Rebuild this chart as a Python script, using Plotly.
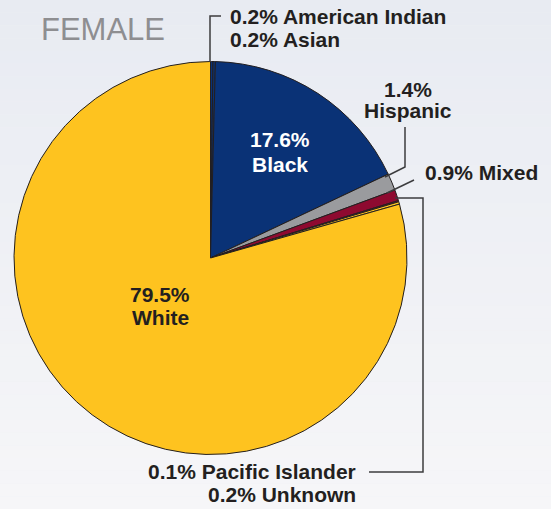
import plotly.graph_objects as go

W, H = 551, 509

# data
categories = ["American Indian", "Asian", "Black", "Hispanic", "Mixed",
              "Pacific Islander", "Unknown", "White"]
percents = [0.2, 0.2, 17.6, 1.4, 0.9, 0.1, 0.2, 79.5]
slice_colors = ["#0A3276", "#0A3276", "#0A3276", "#9A9B9E", "#8E0A30",
                "#8E0A30", "#FEC31F", "#FEC31F"]

TEXT = "#231F20"
FONT = "Liberation Sans, Arial, Helvetica, sans-serif"


def px(x):
    return x / W


def py(y):
    return 1 - y / H


def label_of(name):
    i = categories.index(name)
    return f"{percents[i]}%", name


fig = go.Figure(
    go.Pie(
        labels=categories,
        values=percents,
        sort=False,
        direction="clockwise",
        rotation=0,
        textinfo="none",
        hoverinfo="label+value",
        marker=dict(colors=slice_colors, line=dict(color=TEXT, width=1)),
        domain=dict(x=[px(14), px(407)], y=[py(455), py(61)]),
        showlegend=False,
    )
)

# background gradient (top bluish grey to near white)
top, bot = (232, 235, 242), (246, 246, 248)
n = 40
shapes = []
for k in range(n):
    t = k / (n - 1)
    c = tuple(round(top[j] + (bot[j] - top[j]) * t) for j in range(3))
    shapes.append(dict(
        type="rect", xref="paper", yref="paper", layer="below",
        x0=0, x1=1, y0=1 - (k + 1) / n, y1=1 - k / n,
        fillcolor="rgb(%d,%d,%d)" % c, line=dict(width=0),
    ))

# leader lines, pixel points
leaders = [
    [(210, 62), (210, 16), (221, 16)],
    [(405, 127), (405, 167), (385, 177)],
    [(414, 180), (387, 193)],
    [(395, 198), (423, 198), (423, 472), (369, 472)],
]
for pts in leaders:
    path = "M " + " L ".join(f"{px(x)},{py(y)}" for x, y in pts)
    shapes.append(dict(type="path", xref="paper", yref="paper", path=path,
                       line=dict(color="#3C3C3E", width=1.5)))

SIZE = 21
annotations = []


def add_text(text, x, baseline, anchor="left", color=TEXT, size=SIZE, bold=True):
    s = f"<b>{text}</b>" if bold else text
    annotations.append(dict(
        text=s, x=px(x), y=py(baseline - 0.36 * size), xref="paper", yref="paper",
        xanchor=anchor, yanchor="middle", showarrow=False,
        font=dict(family=FONT, size=size, color=color),
    ))


add_text("FEMALE", 39, 41, bold=False, size=31, color="#8E8E91")

p, n_ = label_of("American Indian")
add_text(f"{p} {n_}", 228, 24)
p, n_ = label_of("Asian")
add_text(f"{p} {n_}", 228, 47)

p, n_ = label_of("Black")
add_text(p, 280, 147, anchor="center", color="white")
add_text(n_, 280, 172, anchor="center", color="white")

p, n_ = label_of("White")
add_text(p, 160, 302, anchor="center")
add_text(n_, 160, 325, anchor="center")

p, n_ = label_of("Hispanic")
add_text(p, 408, 97, anchor="center")
add_text(n_, 408, 118, anchor="center")

p, n_ = label_of("Mixed")
add_text(f"{p} {n_}", 423, 180)

p, n_ = label_of("Pacific Islander")
add_text(f"{p} {n_}", 358, 479, anchor="right")
p, n_ = label_of("Unknown")
add_text(f"{p} {n_}", 358, 502, anchor="right")

fig.update_layout(
    width=W, height=H,
    margin=dict(l=0, r=0, t=0, b=0),
    paper_bgcolor="#EEF0F4",
    plot_bgcolor="rgba(0,0,0,0)",
    shapes=shapes,
    annotations=annotations,
)

fig.write_html(
    "out.html",
    config={"displayModeBar": False},
    post_script="document.body.style.margin='0';document.body.style.overflow='hidden';",
)
